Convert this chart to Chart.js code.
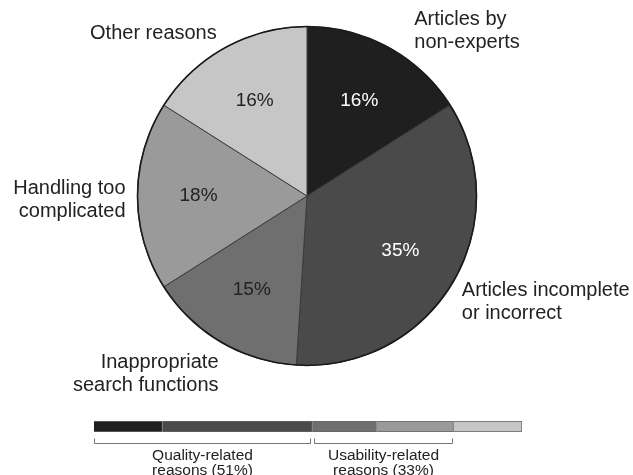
<!DOCTYPE html>
<html>
<head>
<meta charset="utf-8">
<script src="https://cdn.jsdelivr.net/npm/chart.js@4"></script>
<style>
  html, body { margin: 0; padding: 0; background: #fff; }
  #wrap { position: relative; width: 633px; height: 475px; }
  #pieChart { position: absolute; left: 0; top: 0; }
  #barChart { position: absolute; left: 0; top: 400px; }
</style>
</head>
<body>
<div id="wrap">
  <canvas id="pieChart" width="633" height="475"></canvas>
  <canvas id="barChart" width="633" height="75"></canvas>
</div>
<script>
// Reasons (clockwise from 12 o'clock) and their shares in %
const reasons = [
    ['Articles by', 'non-experts'],
    ['Articles incomplete', 'or incorrect'],
    ['Inappropriate', 'search functions'],
    ['Handling too', 'complicated'],
    ['Other reasons']
];
const shares = [16, 35, 15, 18, 16];

// Groups shown under the summary bar
const groupLabels = [
    ['Quality-related', 'reasons (51%)'],
    ['Usability-related', 'reasons (33%)']
];
const groupMembers = [[0, 1], [2, 3]];

const sliceColors = ['#1f1f1f', '#4a4a4a', '#6f6f6f', '#9a9a9a', '#c6c6c6'];
const pctColors = ['#ffffff', '#ffffff', '#222222', '#222222', '#222222'];
const FONT = '"Liberation Sans", Arial, sans-serif';

// small nudges for the outside labels so they sit like the original
const labelNudge = [[15, 3], [-10, 9], [9, 13], [10, 4], [2, 5]];

// Plugin: percentages inside and reason labels outside the pie
const pieLabels = {
    id: 'pieLabels',
    afterDatasetsDraw(chart) {
        const ctx = chart.ctx;
        const meta = chart.getDatasetMeta(0);
        ctx.save();

        // darker outer outline
        const a0 = meta.data[0];
        ctx.beginPath();
        ctx.arc(a0.x, a0.y, a0.outerRadius, 0, Math.PI * 2);
        ctx.lineWidth = 1.6;
        ctx.strokeStyle = '#1a1a1a';
        ctx.stroke();

        meta.data.forEach((arc, i) => {
            const mid = (arc.startAngle + arc.endAngle) / 2;
            const r = arc.outerRadius;

            // percentage
            ctx.font = '19px ' + FONT;
            ctx.textAlign = 'center';
            ctx.textBaseline = 'middle';
            ctx.fillStyle = pctColors[i];
            ctx.fillText(shares[i] + '%', arc.x + Math.cos(mid) * r * 0.64, arc.y + Math.sin(mid) * r * 0.64);

            // outside label
            const d = r + 22;
            const x = arc.x + Math.cos(mid) * d + labelNudge[i][0];
            const y = arc.y + Math.sin(mid) * d + labelNudge[i][1];
            const lines = reasons[i];
            const lh = 23;
            ctx.font = '20px ' + FONT;
            ctx.textAlign = Math.cos(mid) >= 0 ? 'left' : 'right';
            ctx.fillStyle = '#222';
            lines.forEach((ln, k) => {
                ctx.fillText(ln, x, y + (k - (lines.length - 1) / 2) * lh);
            });
        });
        ctx.restore();
    }
};

new Chart(document.getElementById('pieChart'), {
    type: 'pie',
    data: {
        labels: reasons.map(l => l.join(' ')),
        datasets: [{
            data: shares,
            backgroundColor: sliceColors,
            borderColor: '#3a3a3a',
            borderWidth: 1
        }]
    },
    options: {
        responsive: false,
        animation: false,
        layout: { padding: { left: 137, right: 156, top: 26, bottom: 109 } },
        plugins: { legend: { display: false }, tooltip: { enabled: false } }
    },
    plugins: [pieLabels]
});

// Plugin: brackets and group captions under the bar
const groupBrackets = {
    id: 'groupBrackets',
    afterDraw(chart) {
        const ctx = chart.ctx;
        const xs = chart.scales.x;
        const area = chart.chartArea;
        ctx.save();
        ctx.strokeStyle = '#777';
        ctx.lineWidth = 1;
        groupMembers.forEach((members, g) => {
            const before = shares.slice(0, members[0]).reduce((a, b) => a + b, 0);
            const total = members.reduce((a, m) => a + shares[m], 0);
            const x1 = Math.round(xs.getPixelForValue(before)) + (g > 0 ? 2 : 0) + 0.5;
            const x2 = Math.round(xs.getPixelForValue(before + total)) - 2 + 0.5;
            const yb = area.bottom + 11.5;
            ctx.beginPath();
            ctx.moveTo(x1, yb - 5);
            ctx.lineTo(x1, yb);
            ctx.lineTo(x2, yb);
            ctx.lineTo(x2, yb - 5);
            ctx.stroke();

            ctx.fillStyle = '#222';
            ctx.font = '15.5px ' + FONT;
            ctx.textAlign = 'center';
            ctx.textBaseline = 'middle';
            groupLabels[g].forEach((ln, k) => {
                ctx.fillText(ln, (x1 + x2) / 2, area.bottom + 24 + k * 15);
            });
        });
        ctx.restore();
    }
};

new Chart(document.getElementById('barChart'), {
    type: 'bar',
    data: {
        labels: [''],
        datasets: shares.map((v, i) => ({
            label: reasons[i].join(' '),
            data: [v],
            backgroundColor: sliceColors[i],
            borderColor: '#666',
            borderWidth: 1,
            categoryPercentage: 1,
            barPercentage: 1
        }))
    },
    options: {
        indexAxis: 'y',
        responsive: false,
        animation: false,
        layout: { padding: { left: 94, right: 111, top: 21, bottom: 43 } },
        scales: {
            x: { stacked: true, min: 0, max: 100, display: false },
            y: { stacked: true, display: false }
        },
        plugins: { legend: { display: false }, tooltip: { enabled: false } }
    },
    plugins: [groupBrackets]
});
</script>
</body>
</html>
